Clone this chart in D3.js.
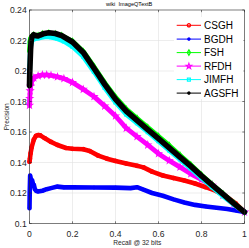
<!DOCTYPE html>
<html><head><meta charset="utf-8">
<script src="https://cdn.jsdelivr.net/npm/d3@7"></script>
<style>body{margin:0;background:#fff}svg{display:block}text{font-family:"Liberation Sans",Arial,sans-serif}</style>
</head><body>
<script>
const seriesNames = ["CSGH","BGDH","FSH","RFDH","JIMFH","AGSFH"];
const seriesColors = ["#ff0000","#0000ff","#00ff00","#ff00ff","#00ffff","#000000"];
const seriesMarkers = ["circle","asterisk","diamond","star","square","asterisk"];

const csghRecall = [0,0.002,0.005,0.01,0.02,0.03,0.04,0.05,0.07,0.1,0.13,0.17,0.2,0.25,0.28,0.32,0.36,0.4,0.45,0.5,0.53,0.57,0.62,0.67,0.72,0.77,0.82,0.87,0.92,0.96,1.0];
const csghPrec   = [0.1405,0.1425,0.146,0.15,0.155,0.1575,0.158,0.1578,0.156,0.1535,0.1515,0.1495,0.149,0.1487,0.1475,0.1445,0.1425,0.141,0.1393,0.1378,0.1368,0.134,0.1315,0.1298,0.1282,0.1262,0.1238,0.1212,0.1172,0.113,0.1075];

const bgdhRecall = [0,0.001,0.003,0.005,0.008,0.012,0.016,0.02,0.025,0.03,0.04,0.06,0.08,0.1,0.13,0.16,0.2,0.3,0.4,0.47,0.5,0.53,0.57,0.62,0.67,0.72,0.77,0.82,0.87,0.92,0.96,1.0];
const bgdhPrec   = [0.11,0.12,0.1315,0.13,0.127,0.1285,0.126,0.1255,0.1225,0.1215,0.121,0.1215,0.1225,0.1232,0.1242,0.1237,0.1238,0.1236,0.1235,0.1232,0.1238,0.1222,0.12,0.1182,0.1158,0.1138,0.1122,0.1112,0.1103,0.1095,0.1085,0.1075];

const fshRecall = [0,0.002,0.005,0.01,0.02,0.04,0.06,0.09,0.12,0.15,0.2,0.25,0.3,0.35,0.4,0.45,0.5,0.55,0.6,0.65,0.7,0.75,0.8,0.85,0.9,0.95,1.0];
const fshPrec   = [0.213,0.219,0.2215,0.2225,0.2235,0.2232,0.2243,0.2248,0.2243,0.2232,0.2195,0.2128,0.2028,0.1922,0.1828,0.175,0.169,0.163,0.1572,0.1512,0.1448,0.1385,0.1318,0.1256,0.1195,0.1134,0.1075];

const rfdhRecall = [0,0.001,0.003,0.005,0.01,0.02,0.04,0.06,0.08,0.1,0.13,0.16,0.2,0.25,0.3,0.35,0.4,0.45,0.5,0.55,0.6,0.65,0.7,0.75,0.8,0.85,0.9,0.95,1.0];
const rfdhPrec   = [0.1775,0.182,0.187,0.19,0.193,0.1955,0.1968,0.1974,0.1975,0.1972,0.1962,0.195,0.1925,0.188,0.1832,0.177,0.1705,0.1625,0.157,0.1515,0.1458,0.1412,0.137,0.1326,0.1288,0.125,0.1185,0.1125,0.1075];

const jimfhRecall = [0,0.001,0.003,0.005,0.01,0.02,0.04,0.06,0.08,0.1,0.13,0.16,0.2,0.25,0.3,0.35,0.4,0.45,0.5,0.55,0.6,0.65,0.7,0.75,0.8,0.85,0.9,0.95,1.0];
const jimfhPrec   = [0.195,0.203,0.211,0.216,0.2195,0.221,0.2215,0.2222,0.2225,0.2222,0.2212,0.2195,0.216,0.2095,0.1995,0.189,0.1795,0.1715,0.1658,0.16,0.154,0.148,0.142,0.136,0.1298,0.1238,0.118,0.1125,0.1075];

const agsfhRecall = [0,0.001,0.003,0.005,0.008,0.012,0.02,0.03,0.04,0.05,0.07,0.09,0.12,0.15,0.2,0.25,0.3,0.35,0.4,0.45,0.5,0.55,0.6,0.65,0.7,0.75,0.8,0.85,0.9,0.95,1.0];
const agsfhPrec   = [0.1905,0.198,0.206,0.214,0.22,0.2225,0.2238,0.2232,0.223,0.2236,0.2246,0.2251,0.2246,0.2232,0.219,0.2122,0.2018,0.1912,0.1815,0.1737,0.1676,0.1616,0.1556,0.1496,0.1436,0.1376,0.1312,0.1252,0.1192,0.1132,0.1075];

const xTicks = [0,0.2,0.4,0.6,0.8,1];
const xTickLabels = ["0","0.2","0.4","0.6","0.8","1"];
const yTicks = [0.1,0.12,0.14,0.16,0.18,0.2,0.22,0.24];
const yTickLabels = ["0.1","0.12","0.14","0.16","0.18","0.2","0.22","0.24"];
const titleText = "wiki  ImageQTextB";
const xLabel = "Recall @ 32 bits";
const yLabel = "Precision";

const recalls = [csghRecall,bgdhRecall,fshRecall,rfdhRecall,jimfhRecall,agsfhRecall];
const precs = [csghPrec,bgdhPrec,fshPrec,rfdhPrec,jimfhPrec,agsfhPrec];

const W=249,H=248;
const L=29.5,R=244.5,T=10,B=223.5;
const svg=d3.select("body").append("svg").attr("width",W).attr("height",H);
const x=d3.scaleLinear().domain([0,1]).range([L,R]);
const y=d3.scaleLinear().domain([0.1,0.24]).range([B,T]);
const axisCol="#262626";

svg.append("rect").attr("x",L).attr("y",T).attr("width",R-L).attr("height",B-T).attr("fill","#fff");
const grid=svg.append("g").attr("stroke","#e1e1e1").attr("stroke-width",0.6);
xTicks.slice(1,-1).forEach(v=>grid.append("line").attr("x1",x(v)).attr("x2",x(v)).attr("y1",T).attr("y2",B));
yTicks.slice(1,-1).forEach(v=>grid.append("line").attr("x1",L).attr("x2",R).attr("y1",y(v)).attr("y2",y(v)));

function markerPath(kind,s){
  if(kind==="asterisk"){const a=s/2,b=a*0.7;return `M${-a},0H${a}M0,${-a}V${a}M${-b},${-b}L${b},${b}M${-b},${b}L${b},${-b}`;}
  const map={circle:d3.symbolCircle,diamond:d3.symbolDiamond,star:d3.symbolStar,square:d3.symbolSquare};
  return d3.symbol().type(map[kind]).size(s*s*0.75)();
}

const plot=svg.append("g");
const line=d3.line().x(d=>x(d[0])).y(d=>y(d[1]));
const lineW=[4.6,4.6,4.8,4.8,4.8,5.6];
seriesNames.forEach((n,i)=>{
  const pts=recalls[i].map((r,j)=>[r,precs[i][j]]);
  const g=plot.append("g");
  g.append("path").attr("d",line(pts)).attr("fill","none").attr("stroke",seriesColors[i]).attr("stroke-width",lineW[i]).attr("stroke-linejoin","round").attr("stroke-linecap","round");
  g.selectAll("path.m").data(pts).enter().append("path").attr("class","m")
    .attr("transform",d=>`translate(${x(d[0])},${y(d[1])})`)
    .attr("d",markerPath(seriesMarkers[i],3.6))
    .attr("fill","none")
    .attr("stroke",seriesColors[i]).attr("stroke-width",1.2);
});

const ax=svg.append("g").attr("stroke",axisCol).attr("stroke-width",0.6);
ax.append("rect").attr("x",L).attr("y",T).attr("width",R-L).attr("height",B-T).attr("fill","none");
const tl=2.2;
xTicks.forEach(v=>{ax.append("line").attr("x1",x(v)).attr("x2",x(v)).attr("y1",B).attr("y2",B-tl);
  ax.append("line").attr("x1",x(v)).attr("x2",x(v)).attr("y1",T).attr("y2",T+tl);});
yTicks.forEach(v=>{ax.append("line").attr("x1",L).attr("x2",L+tl).attr("y1",y(v)).attr("y2",y(v));
  ax.append("line").attr("x1",R).attr("x2",R-tl).attr("y1",y(v)).attr("y2",y(v));});

const tf=8.6;
xTicks.forEach((v,i)=>svg.append("text").attr("x",x(v)).attr("y",236.7).attr("text-anchor","middle").attr("font-size",tf).attr("fill",axisCol).text(xTickLabels[i]));
yTicks.forEach((v,i)=>svg.append("text").attr("x",26.7).attr("y",y(v)).attr("dy","0.35em").attr("text-anchor","end").attr("font-size",tf).attr("fill",axisCol).text(yTickLabels[i]));

svg.append("text").attr("x",129.2).attr("y",6.3).attr("text-anchor","middle").attr("font-size",5.6).attr("fill","#000").style("white-space","pre").text(titleText);
svg.append("text").attr("x",137.3).attr("y",245.2).attr("text-anchor","middle").attr("font-size",6.6).attr("fill",axisCol).text(xLabel);
svg.append("text").attr("transform","translate(9.3,116.8) rotate(-90)").attr("text-anchor","middle").attr("font-size",6.6).attr("fill",axisCol).text(yLabel);

const lg=svg.append("g");
lg.append("rect").attr("x",174).attr("y",17).attr("width",69.5).attr("height",82).attr("fill","#fff");
const rowY=[25.3,39.1,52.6,66.1,79.6,93.1];
seriesNames.forEach((n,i)=>{
  lg.append("line").attr("x1",176.7).attr("x2",201).attr("y1",rowY[i]).attr("y2",rowY[i]).attr("stroke",seriesColors[i]).attr("stroke-width",1);
  lg.append("path").attr("transform",`translate(188.9,${rowY[i]})`).attr("d",markerPath(seriesMarkers[i],3.4)).attr("fill","none").attr("stroke",seriesColors[i]).attr("stroke-width",1.2);
  lg.append("text").attr("x",204).attr("y",rowY[i]).attr("dy","0.36em").attr("font-size",10).attr("fill","#000").text(n);
});
</script>
</body></html>
